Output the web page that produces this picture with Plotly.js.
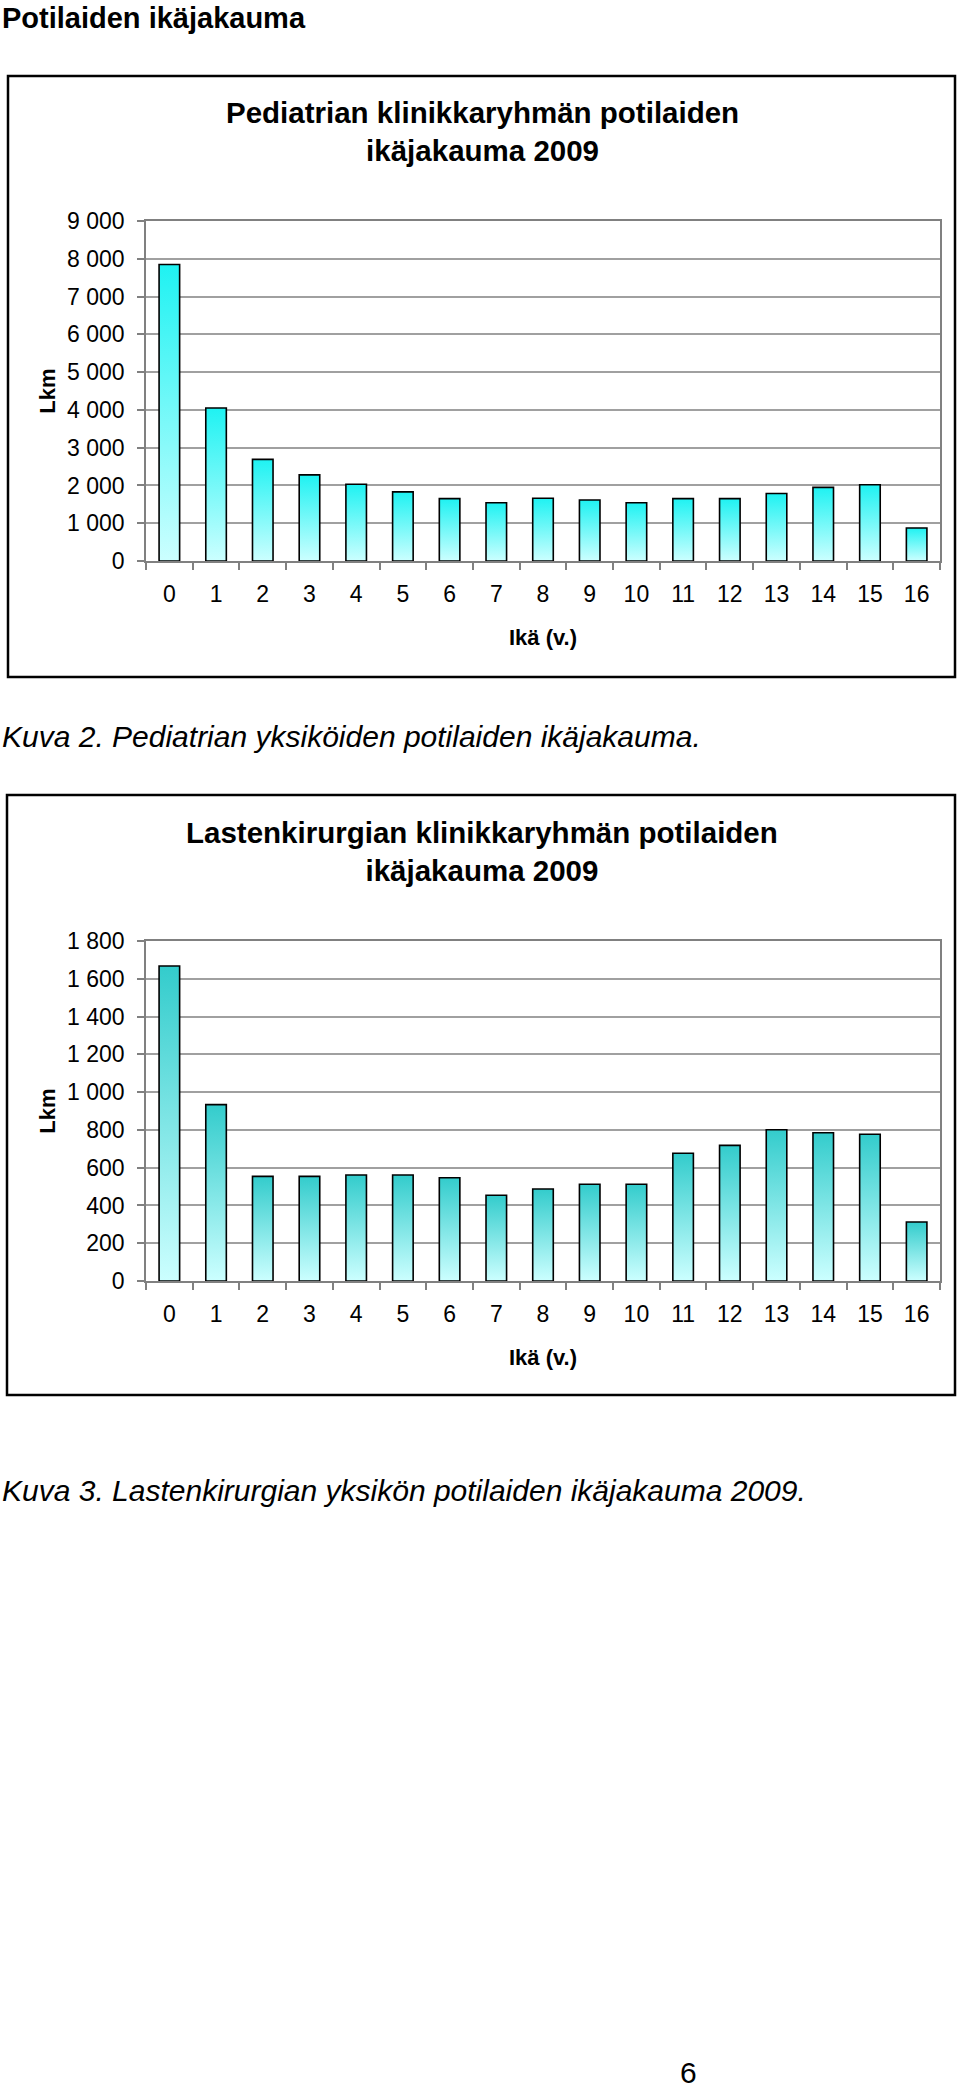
<!DOCTYPE html>
<html>
<head>
<meta charset="utf-8">
<script src="https://cdn.plot.ly/plotly-3.0.1.min.js"></script>
<style>
html,body{margin:0;padding:0;background:#ffffff;}
#chart{width:960px;height:2089px;}
</style>
</head>
<body>
<div id="chart"></div>
<script>
// ---------- data ----------
const ages = ['0','1','2','3','4','5','6','7','8','9','10','11','12','13','14','15','16'];
const pediatriaCounts = [7850, 4050, 2690, 2280, 2030, 1830, 1650, 1540, 1660, 1615, 1540, 1650, 1650, 1785, 1950, 2020, 875];
const kirurgiaCounts  = [1668, 934, 554, 554, 561, 561, 547, 454, 487, 512, 512, 676, 718, 801, 785, 777, 312];
const pediatriaRange = [0, 9000];
const pediatriaStep = 1000;
const kirurgiaRange = [0, 1800];
const kirurgiaStep = 200;

const pageHeading = 'Potilaiden ikäjakauma';
const chartTitle1 = 'Pediatrian klinikkaryhmän potilaiden<br>ikäjakauma 2009';
const chartTitle2 = 'Lastenkirurgian klinikkaryhmän potilaiden<br>ikäjakauma 2009';
const caption1 = 'Kuva 2. Pediatrian yksiköiden potilaiden ikäjakauma.';
const caption2 = 'Kuva 3. Lastenkirurgian yksikön potilaiden ikäjakauma 2009.';
const yTitle = 'Lkm';
const xTitle = 'Ikä (v.)';
const pageNumber = '6';

// ---------- layout helpers ----------
const W = 960, H = 2089;
const px = x => x / W;
const py = y => 1 - y / H;
const FONT = 'Liberation Sans, Arial, Helvetica, sans-serif';

function xAxisCfg(anchor) {
  return {
    domain: [px(146), px(940)],
    anchor: anchor,
    type: 'category',
    showgrid: false,
    ticks: 'outside',
    tickson: 'boundaries',
    ticklen: 7,
    tickwidth: 1.5,
    tickcolor: '#808080',
    showline: true,
    linecolor: '#808080',
    linewidth: 1.5,
    mirror: true,
    ticklabelstandoff: 12,
    tickfont: {family: FONT, size: 23, color: '#000'},
    title: {text: xTitle, standoff: 23, font: {family: FONT, size: 22, weight: 'bold', color: '#000'}},
    fixedrange: true
  };
}
function yAxisCfg(anchor, top, bottom, range, step) {
  return {
    domain: [py(bottom), py(top)],
    anchor: anchor,
    range: range,
    tick0: 0,
    dtick: step,
    showgrid: true,
    gridcolor: '#a0a0a0',
    gridwidth: 1.5,
    zeroline: false,
    ticks: 'outside',
    ticklen: 7,
    tickwidth: 1.5,
    tickcolor: '#808080',
    showline: true,
    linecolor: '#808080',
    linewidth: 1.5,
    mirror: true,
    separatethousands: true,
    ticklabelstandoff: 8,
    tickfont: {family: FONT, size: 23, color: '#000'},
    title: {text: yTitle, standoff: 5, font: {family: FONT, size: 22, weight: 'bold', color: '#000'}},
    fixedrange: true
  };
}

const traces = [
  {
    type: 'bar', x: ages, y: pediatriaCounts, xaxis: 'x', yaxis: 'y',
    name: 'Pediatria',
    marker: {color: '#1ff2f2', line: {color: '#000000', width: 1.6}},
    hovertemplate: '%{x} v.: %{y}<extra></extra>'
  },
  {
    type: 'bar', x: ages, y: kirurgiaCounts, xaxis: 'x2', yaxis: 'y2',
    name: 'Lastenkirurgia',
    marker: {color: '#33cccc', line: {color: '#000000', width: 1.6}},
    hovertemplate: '%{x} v.: %{y}<extra></extra>'
  }
];

const layout = {
  width: W, height: H,
  margin: {l: 0, r: 0, t: 0, b: 0, pad: 0},
  paper_bgcolor: '#ffffff',
  plot_bgcolor: '#ffffff',
  showlegend: false,
  separators: ', ',
  bargap: 0.56,
  font: {family: FONT, color: '#000'},
  xaxis: xAxisCfg('y'),
  yaxis: yAxisCfg('x', 221, 561, pediatriaRange, pediatriaStep),
  xaxis2: xAxisCfg('y2'),
  yaxis2: yAxisCfg('x2', 941, 1281, kirurgiaRange, kirurgiaStep),
  shapes: [
    {type: 'rect', xref: 'paper', yref: 'paper', x0: px(8), x1: px(955), y0: py(677), y1: py(76),
     line: {color: '#000', width: 2.5}, fillcolor: 'rgba(0,0,0,0)', layer: 'below'},
    {type: 'rect', xref: 'paper', yref: 'paper', x0: px(7), x1: px(955), y0: py(1395), y1: py(795),
     line: {color: '#000', width: 2.5}, fillcolor: 'rgba(0,0,0,0)', layer: 'below'}
  ],
  annotations: [
    {text: pageHeading, xref: 'paper', yref: 'paper', x: px(0), y: py(18), xanchor: 'left', yanchor: 'middle',
     showarrow: false, font: {family: FONT, size: 29, weight: 'bold', color: '#000'}},
    {text: chartTitle1, xref: 'paper', yref: 'paper', x: px(482), y: py(131), xanchor: 'center', yanchor: 'middle',
     showarrow: false, align: 'center', font: {family: FONT, size: 29.5, weight: 'bold', color: '#000'}},
    {text: caption1, xref: 'paper', yref: 'paper', x: px(0), y: py(736), xanchor: 'left', yanchor: 'middle',
     showarrow: false, font: {family: FONT, size: 30, style: 'italic', color: '#000'}},
    {text: chartTitle2, xref: 'paper', yref: 'paper', x: px(482), y: py(852), xanchor: 'center', yanchor: 'middle',
     showarrow: false, align: 'center', font: {family: FONT, size: 29.5, weight: 'bold', color: '#000'}},
    {text: caption2, xref: 'paper', yref: 'paper', x: px(0), y: py(1490), xanchor: 'left', yanchor: 'middle',
     showarrow: false, font: {family: FONT, size: 30, style: 'italic', color: '#000'}},
    {text: pageNumber, xref: 'paper', yref: 'paper', x: px(688), y: py(2072), xanchor: 'center', yanchor: 'middle',
     showarrow: false, font: {family: FONT, size: 30, color: '#000'}}
  ]
};

// vertical gradient fills for each bar (bright at the top, pale at the bottom)
const gradients = [
  {id: 'gradPed', subplot: 'xy', top: '#1ff2f2', bottom: '#ccffff'},
  {id: 'gradKir', subplot: 'x2y2', top: '#33cccc', bottom: '#ccffff'}
];
function applyGradients(gd) {
  const NS = 'http://www.w3.org/2000/svg';
  const svg = gd.querySelector('svg.main-svg');
  if (!svg) return;
  let defs = svg.querySelector('defs');
  if (!defs) { defs = document.createElementNS(NS, 'defs'); svg.insertBefore(defs, svg.firstChild); }
  gradients.forEach(g => {
    if (!document.getElementById(g.id)) {
      const lg = document.createElementNS(NS, 'linearGradient');
      lg.setAttribute('id', g.id);
      lg.setAttribute('x1', '0'); lg.setAttribute('y1', '0');
      lg.setAttribute('x2', '0'); lg.setAttribute('y2', '1');
      [[0, g.top], [1, g.bottom]].forEach(([o, c]) => {
        const s = document.createElementNS(NS, 'stop');
        s.setAttribute('offset', String(o));
        s.setAttribute('stop-color', c);
        lg.appendChild(s);
      });
      defs.appendChild(lg);
    }
    gd.querySelectorAll('.subplot.' + g.subplot + ' .barlayer .point path').forEach(p => {
      p.style.fill = 'url(#' + g.id + ')';
    });
  });
}

const gd = document.getElementById('chart');
Plotly.newPlot(gd, traces, layout, {displayModeBar: false, responsive: false}).then(() => {
  applyGradients(gd);
  gd.on('plotly_afterplot', () => applyGradients(gd));
});
</script>
</body>
</html>
